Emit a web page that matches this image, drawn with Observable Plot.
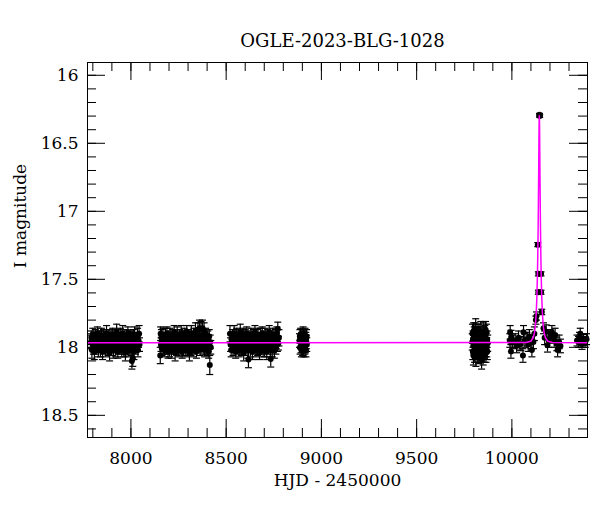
<!DOCTYPE html>
<html><head><meta charset="utf-8">
<script src="https://cdn.jsdelivr.net/npm/d3@7"></script>
<script src="https://cdn.jsdelivr.net/npm/@observablehq/plot@0.6"></script>
<style>body{margin:0;background:#fff}</style>
</head><body><div id="chart"></div>
<script>
const title = "OGLE-2023-BLG-1028";
const xLabel = "HJD - 2450000";
const yLabel = "I magnitude";
const xTicks = [8000, 8500, 9000, 9500, 10000];
const xMinor = [7800,7900,8000,8100,8200,8300,8400,8500,8600,8700,8800,8900,9000,9100,9200,9300,9400,9500,9600,9700,9800,9900,10000,10100,10200,10300];
const yTicks = [16, 16.5, 17, 17.5, 18, 18.5];
const yMinor = [16,16.1,16.2,16.3,16.4,16.5,16.6,16.7,16.8,16.9,17,17.1,17.2,17.3,17.4,17.5,17.6,17.7,17.8,17.9,18,18.1,18.2,18.3,18.4,18.5,18.6];

// observations: [HJD-2450000, I mag, error]
const season2017 = [[7790,17.96,.05],[7792,17.93,.05],[7795,18.02,.06],[7797,17.97,.05],[7800,17.91,.05],[7803,17.99,.06],[7805,17.94,.05],[7808,18.03,.06],[7811,17.96,.05],[7813,17.92,.05],[7816,18.00,.05],[7819,17.95,.06],[7821,17.98,.05],[7824,17.90,.05],[7827,17.97,.05],[7829,18.02,.05],[7832,17.94,.06],[7835,17.99,.05],[7837,17.93,.05],[7840,18.01,.06],[7843,17.96,.05],[7845,17.91,.05],[7848,17.98,.05],[7851,18.03,.06],[7853,17.95,.05],[7856,17.92,.05],[7859,18.00,.05],[7861,17.97,.06],[7864,17.93,.05],[7867,18.02,.05],[7869,17.96,.05],[7872,17.90,.06],[7875,17.99,.05],[7877,17.94,.05],[7880,18.01,.05],[7883,17.97,.06],[7885,17.92,.05],[7888,18.04,.06],[7891,17.95,.05],[7893,17.98,.05],[7896,17.93,.05],[7899,18.00,.06],[7901,17.96,.05],[7904,17.91,.05],[7907,17.99,.05],[7909,18.02,.06],[7912,17.94,.05],[7915,17.97,.05],[7917,17.92,.05],[7920,18.01,.06],[7923,17.95,.05],[7925,17.89,.06],[7928,17.98,.05],[7931,18.03,.05],[7933,17.96,.05],[7936,17.93,.06],[7939,18.00,.05],[7941,17.97,.05],[7944,17.91,.05],[7947,17.99,.06],[7949,17.94,.05],[7952,18.02,.05],[7955,17.96,.05],[7957,17.90,.06],[7960,17.98,.05],[7963,18.01,.06],[7965,17.93,.05],[7968,17.97,.05],[7971,18.04,.06],[7973,17.95,.05],[7976,17.92,.05],[7979,18.00,.05],[7981,17.96,.06],[7984,17.90,.05],[7987,17.99,.05],[7989,18.02,.05],[7992,17.94,.06],[7995,17.97,.05],[7997,17.93,.05],[8000,18.01,.05],[8003,17.95,.06],[8005,18.10,.06],[8008,17.98,.05],[8010,18.08,.06],[8013,17.92,.05],[8016,18.03,.06],[8019,17.91,.06],[8021,17.99,.05],[8024,18.00,.05],[8027,17.94,.05],[8029,17.96,.05],[8032,17.97,.05],[8035,17.92,.06],[8037,18.02,.05],[8040,17.95,.05],[8043,17.90,.06],[8045,17.98,.05]];
const season2018 = [[8154,18.06,.06],[8156,17.90,.05],[8158,17.98,.05],[8160,17.93,.06],[8163,18.01,.05],[8165,17.96,.05],[8168,17.91,.05],[8171,17.99,.06],[8173,17.94,.05],[8176,18.02,.05],[8179,17.97,.05],[8181,17.92,.06],[8184,18.00,.05],[8187,17.95,.05],[8189,17.90,.05],[8192,17.98,.06],[8195,18.03,.05],[8197,17.93,.05],[8200,17.96,.05],[8203,18.01,.06],[8205,17.91,.05],[8208,17.99,.05],[8211,17.94,.05],[8213,18.02,.06],[8216,17.97,.05],[8219,17.92,.05],[8221,18.00,.05],[8224,17.95,.06],[8227,17.89,.05],[8229,17.98,.05],[8232,18.04,.06],[8235,17.93,.05],[8237,17.96,.05],[8240,18.01,.05],[8243,17.91,.06],[8245,17.99,.05],[8248,17.94,.05],[8251,18.02,.05],[8253,17.97,.06],[8256,17.92,.05],[8259,18.00,.05],[8261,17.95,.05],[8264,17.90,.06],[8267,17.98,.05],[8269,18.03,.05],[8272,17.93,.05],[8275,17.96,.06],[8277,18.01,.05],[8280,17.91,.05],[8283,17.99,.05],[8285,17.94,.06],[8288,18.02,.05],[8291,17.97,.05],[8293,17.89,.05],[8296,18.00,.06],[8299,17.95,.05],[8301,17.92,.05],[8304,17.98,.05],[8307,18.04,.06],[8309,17.93,.05],[8312,17.96,.05],[8315,18.01,.05],[8317,17.90,.06],[8320,17.99,.05],[8323,17.94,.05],[8325,18.02,.05],[8328,17.97,.06],[8331,17.91,.05],[8333,18.00,.05],[8336,17.95,.05],[8339,17.88,.06],[8341,17.98,.05],[8344,18.03,.05],[8347,17.93,.05],[8349,17.96,.06],[8352,17.87,.05],[8355,17.99,.05],[8357,17.92,.05],[8360,17.86,.06],[8363,18.01,.05],[8365,17.95,.05],[8368,17.87,.06],[8371,17.98,.05],[8373,17.93,.05],[8376,17.86,.06],[8379,18.00,.05],[8381,17.96,.05],[8384,17.88,.06],[8387,18.02,.05],[8389,17.94,.05],[8392,17.91,.05],[8395,17.99,.06],[8397,17.95,.05],[8400,18.01,.05],[8403,17.93,.05],[8405,17.97,.06],[8408,18.03,.05],[8411,17.92,.05],[8414,18.13,.07],[8416,17.96,.05],[8419,18.00,.05]];
const season2019 = [[8520,17.90,.06],[8523,17.98,.05],[8526,18.02,.05],[8528,17.94,.05],[8531,17.97,.06],[8534,17.92,.05],[8536,18.01,.05],[8539,17.95,.05],[8542,17.90,.06],[8544,17.99,.05],[8547,17.93,.05],[8550,18.03,.05],[8552,17.96,.06],[8555,17.91,.05],[8558,18.00,.05],[8560,17.94,.05],[8563,17.98,.06],[8566,17.92,.05],[8568,18.02,.05],[8571,17.97,.05],[8574,17.89,.06],[8576,17.95,.05],[8579,18.01,.05],[8582,17.93,.05],[8584,17.99,.06],[8587,17.96,.05],[8590,17.91,.05],[8592,18.04,.06],[8595,17.94,.05],[8598,17.98,.05],[8600,17.92,.05],[8603,18.00,.06],[8606,17.95,.05],[8608,17.90,.05],[8611,17.97,.05],[8614,18.02,.06],[8617,18.09,.06],[8619,17.93,.05],[8622,17.99,.05],[8625,17.96,.05],[8627,18.01,.06],[8630,17.91,.05],[8633,17.98,.05],[8635,17.94,.05],[8638,18.03,.06],[8641,17.96,.05],[8643,17.92,.05],[8646,18.00,.05],[8649,17.95,.06],[8651,17.89,.05],[8654,17.98,.05],[8657,18.02,.05],[8659,17.93,.06],[8662,17.97,.05],[8665,18.01,.05],[8667,17.91,.05],[8670,17.99,.06],[8673,17.94,.05],[8675,18.04,.05],[8678,17.96,.05],[8681,17.92,.06],[8683,18.00,.05],[8686,17.95,.05],[8689,17.90,.05],[8691,17.98,.06],[8694,18.02,.05],[8697,17.93,.05],[8699,17.97,.05],[8702,18.01,.06],[8705,17.91,.05],[8707,17.99,.05],[8710,17.94,.05],[8713,18.03,.06],[8715,17.96,.05],[8718,17.92,.05],[8721,18.00,.05],[8723,17.95,.06],[8726,17.89,.05],[8729,17.98,.05],[8731,18.02,.05],[8734,18.085,.06],[8737,17.93,.05],[8739,17.97,.05],[8742,18.01,.06],[8745,17.91,.05],[8747,17.99,.05],[8750,17.94,.05],[8753,18.02,.06],[8755,17.96,.05],[8758,17.92,.05],[8761,18.00,.05],[8763,17.95,.06],[8766,17.90,.05],[8769,17.98,.05],[8771,17.865,.05],[8774,17.97,.05],[8777,17.93,.06]];
const season2020 = [[8885,17.95,.05],[8887,17.92,.05],[8888,18.00,.05],[8890,17.96,.05],[8891,17.91,.05],[8893,17.99,.05],[8895,18.02,.05],[8896,17.94,.05],[8898,17.97,.05],[8899,17.92,.05],[8901,18.01,.05],[8903,17.95,.05],[8904,17.90,.05],[8906,17.98,.05],[8908,18.02,.05],[8909,17.93,.05],[8911,17.96,.05],[8913,18.00,.05],[8914,17.91,.05],[8916,17.99,.05],[8918,17.94,.05],[8919,18.02,.05],[8921,17.96,.05],[8922,17.92,.05],[8923,17.98,.05]];
const season2022 = [[9792,17.96,.06],[9793,17.90,.07],[9795,18.03,.06],[9796,17.94,.06],[9798,18.06,.07],[9799,17.88,.06],[9801,17.99,.06],[9802,17.92,.07],[9804,18.05,.06],[9805,17.97,.06],[9807,17.89,.07],[9808,18.02,.06],[9810,17.86,.07],[9811,18.07,.07],[9813,17.91,.06],[9814,17.95,.06],[9816,18.00,.06],[9817,17.93,.06],[9819,18.04,.07],[9820,17.96,.06],[9822,17.89,.06],[9823,18.01,.07],[9825,17.94,.06],[9826,18.06,.06],[9828,17.90,.07],[9829,17.98,.06],[9831,18.03,.06],[9832,17.92,.07],[9834,17.97,.06],[9835,18.05,.06],[9837,17.88,.07],[9838,18.00,.06],[9840,17.95,.06],[9841,18.09,.07],[9843,17.91,.06],[9844,17.99,.06],[9846,18.04,.07],[9847,17.93,.06],[9849,18.07,.06],[9850,17.89,.07],[9852,17.97,.06],[9853,18.02,.06],[9855,17.94,.07],[9856,18.05,.06],[9858,17.90,.06],[9859,17.98,.07],[9861,18.01,.06],[9862,17.87,.06],[9864,18.04,.07],[9865,17.96,.06],[9867,17.89,.06],[9868,18.00,.07],[9870,17.94,.06],[9871,18.03,.06],[9873,17.97,.06]];
const season2023 = [[9989,17.95,.05],[9991,17.89,.05],[9995,18.03,.05],[9996,17.925,.05],[10004,17.96,.05],[10017,17.95,.05],[10025,17.99,.05],[10035,17.93,.05],[10041,17.97,.05],[10047,17.975,.05],[10058,18.06,.05],[10061,17.89,.05],[10068,17.95,.05],[10079,17.94,.05],[10086,17.98,.05],[10092,17.92,.05],[10100,17.96,.05],[10105,18.02,.05],[10113,17.96,.05],[10118,17.90,.05],[10126,17.80,.03],[10129,17.77,.03],[10136,17.245,.015],[10139,17.46,.015],[10139,17.595,.015],[10145,16.29,.01],[10146,16.30,.01],[10153,17.46,.015],[10153,17.595,.015],[10157,17.74,.02],[10166,17.86,.04],[10172,17.93,.05],[10180,17.885,.05],[10187,17.985,.05],[10194,17.95,.05],[10201,17.92,.05],[10210,17.89,.05],[10222,17.95,.05],[10227,17.91,.05],[10236,17.975,.05],[10240,18.02,.05],[10248,17.96,.05],[10255,17.99,.05]];
const season2024 = [[10342,17.95,.04],[10350,17.96,.04],[10355,17.93,.04],[10359,17.90,.04],[10368,17.975,.04],[10376,17.945,.04],[10385,17.96,.04],[10392,17.94,.04]];

// model light curve
const modelT = [7772,10074,10099,10112,10119,10124,10128,10131,10134,10136,10138,10140,10141,10142,10143,10144,10145,10146,10147,10148,10150,10152,10154,10157,10160,10164,10169,10176,10189,10214,10397];
const modelM = [17.967,17.965,17.955,17.93,17.89,17.83,17.74,17.64,17.48,17.32,17.11,16.82,16.66,16.48,16.34,16.297,16.34,16.48,16.66,16.82,17.11,17.32,17.48,17.64,17.74,17.83,17.89,17.93,17.955,17.965,17.967];

const obs = [...season2017, ...season2018, ...season2019, ...season2020, ...season2022, ...season2023, ...season2024]
  .map(([t, m, e]) => ({t, m, e}));
const model = modelT.map((t, i) => ({t, m: modelM[i]}));

const W = 600, H = 512, mL = 87, mR = 13, mT = 62, mB = 75;
const fw = W - mL - mR, fh = H - mT - mB;
const majorLen = 18, minorLen = 9;
const capSym = {draw(ctx, size) { const r = Math.sqrt(size / Math.PI); ctx.moveTo(-r, 0); ctx.lineTo(r, 0); }};
const fmt = d => String(d);

const chart = Plot.plot({
  width: W, height: H,
  marginLeft: mL, marginRight: mR, marginTop: mT, marginBottom: mB,
  style: {fontFamily: "DejaVu Serif", fontSize: "17px", background: "white", color: "black"},
  x: {domain: [7772, 10397]},
  y: {domain: [15.906, 18.663], reverse: true},
  marks: [
    Plot.ruleX(obs, {x: "t", y1: d => d.m - d.e, y2: d => d.m + d.e, stroke: "black", strokeWidth: 1.2}),
    Plot.dot(obs, {x: "t", y: d => d.m - d.e, symbol: capSym, r: 3.5, fill: "none", stroke: "black", strokeWidth: 1.2}),
    Plot.dot(obs, {x: "t", y: d => d.m + d.e, symbol: capSym, r: 3.5, fill: "none", stroke: "black", strokeWidth: 1.2}),
    Plot.dot(obs, {x: "t", y: "m", r: 3, fill: "black", stroke: "none"}),
    Plot.line(model, {x: "t", y: "m", stroke: "#ff00ff", strokeWidth: 1.5}),
    Plot.frame({stroke: "black"}),
    Plot.tickX(xMinor, {x: d => d, insetTop: fh - minorLen, stroke: "black"}),
    Plot.tickX(xMinor, {x: d => d, insetBottom: fh - minorLen, stroke: "black"}),
    Plot.tickX(xTicks, {x: d => d, insetTop: fh - majorLen, stroke: "black"}),
    Plot.tickX(xTicks, {x: d => d, insetBottom: fh - majorLen, stroke: "black"}),
    Plot.tickY(yMinor, {y: d => d, insetRight: fw - minorLen, stroke: "black"}),
    Plot.tickY(yMinor, {y: d => d, insetLeft: fw - minorLen, stroke: "black"}),
    Plot.tickY(yTicks, {y: d => d, insetRight: fw - majorLen, stroke: "black"}),
    Plot.tickY(yTicks, {y: d => d, insetLeft: fw - majorLen, stroke: "black"}),
    Plot.axisX(xTicks, {tickSize: 0, tickPadding: 14, tickFormat: fmt, label: null, fontSize: 17}),
    Plot.axisY(yTicks, {tickSize: 0, tickPadding: 9, tickFormat: fmt, label: null, fontSize: 17}),
    Plot.text([title], {frameAnchor: "top", dx: 5, dy: -28, fontSize: 18}),
    Plot.text([xLabel], {frameAnchor: "bottom", dy: 48, fontSize: 17}),
    Plot.text([yLabel], {frameAnchor: "left", textAnchor: "middle", dx: -67, dy: -34, rotate: -90, fontSize: 17})
  ]
});
document.getElementById("chart").append(chart);
</script>
</body></html>
